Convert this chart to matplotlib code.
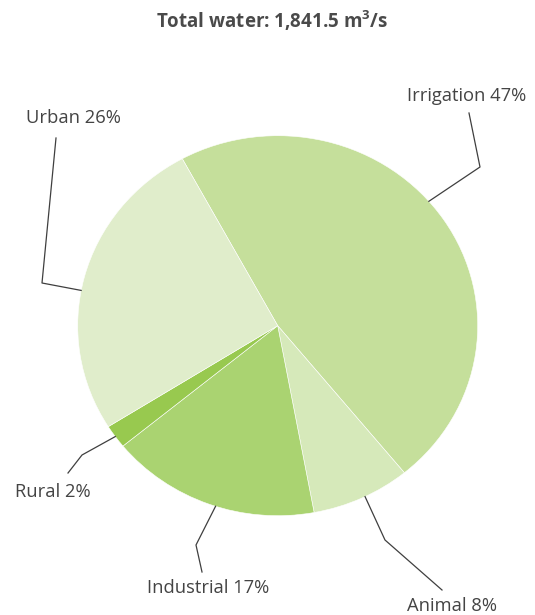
import matplotlib.pyplot as plt
import numpy as np

plt.rcParams["font.family"] = ["Open Sans", "DejaVu Sans"]
plt.rcParams["mathtext.fontset"] = "custom"
plt.rcParams["mathtext.rm"] = "Open Sans"
plt.rcParams["mathtext.bf"] = "Open Sans:bold"

# shares of total water use (%), clockwise from the top
categories = ["Irrigation", "Animal", "Industrial", "Rural", "Urban"]
shares = [47, 8, 17, 2, 26]
colors = ["#c5df9b", "#d6e9ba", "#aad371", "#98c94f", "#e0edcb"]
title = r"Total water: 1,841.5 m$^{\mathbf{3}}$/s"

W, H = 535, 615
CX, CY = 277.7, 325.7      # pie centre in pixels (top-down)
RX, RY = 200.0, 190.0      # the pie is drawn slightly squashed
START = 118.5

# leader layout: anchor angle offset from wedge middle, elbow px, end px, label px
leaders = {
    "Irrigation": (7, (480, 167), (469, 113), (467, 96)),
    "Animal": (1, (385, 540), (442, 590), (452, 606)),
    "Industrial": (2, (196, 545), (202, 572), (208, 588)),
    "Rural": (0, (82, 455), (68, 473), (53, 492)),
    "Urban": (4, (42, 283), (56, 138), (73, 118)),
}

fig = plt.figure(figsize=(W / 100, H / 100), dpi=100)
ax = fig.add_axes([0, 0, 1, 1])
sy = RX / RY
ax.pie(
    shares,
    colors=colors,
    startangle=START,
    counterclock=False,
    radius=RX,
    center=(CX, (H - CY) * sy),
    wedgeprops=dict(edgecolor="white", linewidth=0.4),
    frame=True,
)
ax.set_aspect("auto")
ax.set_xlim(0, W)
ax.set_ylim(0, H * sy)
ax.axis("off")


def px(x, y):
    return x / W, 1 - y / H


angle = START
for name, share in zip(categories, shares):
    span = share / 100 * 360
    off, elbow, end, lab = leaders[name]
    mid = np.deg2rad(angle - span / 2 + off)
    angle -= span
    ax_pt = (CX + RX * np.cos(mid), CY - RY * np.sin(mid))
    xs, ys = zip(*[px(*ax_pt), px(*elbow), px(*end)])
    fig.add_artist(plt.Line2D(xs, ys, color="#3f3f3f", lw=0.9,
                              transform=fig.transFigure))
    fig.text(*px(*lab), f"{name} {share}%", ha="center", va="center",
             fontsize=13.2, color="#444444")

fig.text(*px(W / 2 + 5, 21), title, ha="center", va="center",
         fontsize=13.5, fontweight="bold", color="#4a4a4a")

fig.savefig("out.png", dpi=100)
